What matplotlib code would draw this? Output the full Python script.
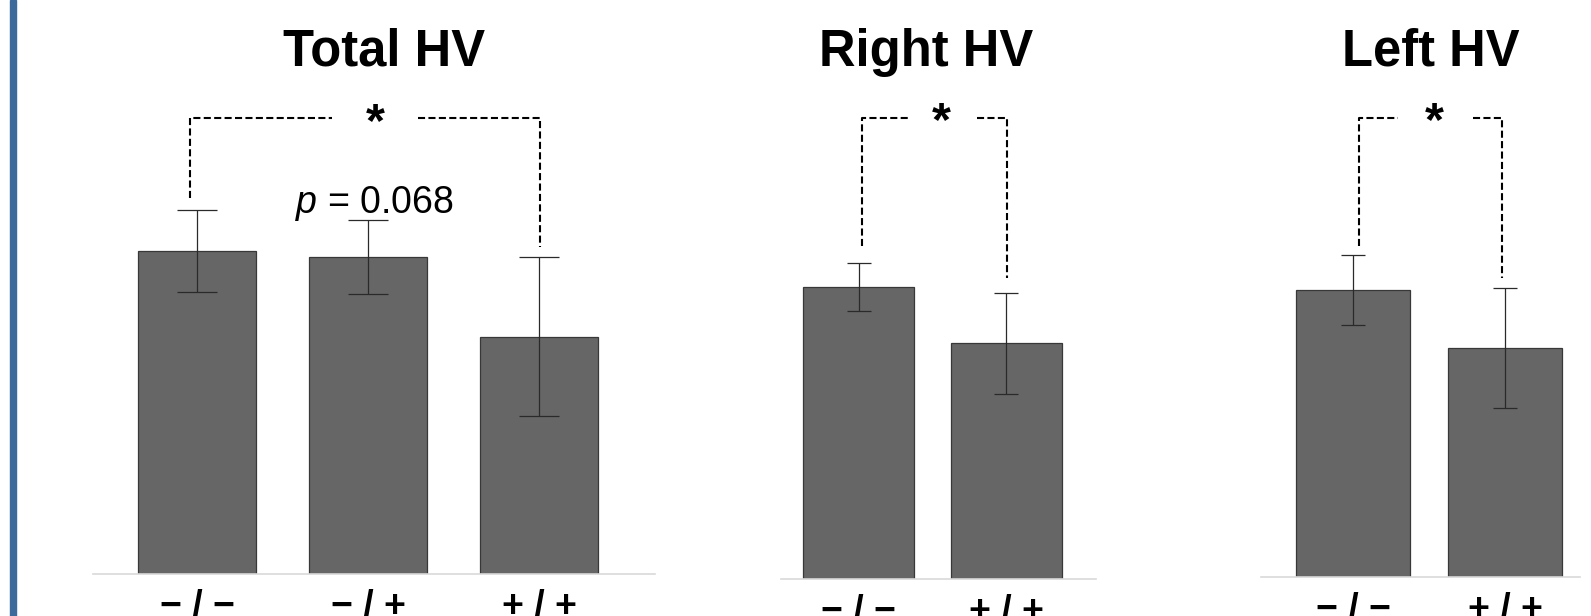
import numpy as np
import matplotlib
matplotlib.use('Agg')
import matplotlib.pyplot as plt

plt.rcParams['font.family'] = ['Liberation Sans', 'DejaVu Sans']
plt.rcParams['mathtext.fontset'] = 'custom'
plt.rcParams['mathtext.it'] = 'Liberation Sans:italic'
plt.rcParams['mathtext.rm'] = 'Liberation Sans'

# data (relative volume, no axis scale shown in the original)
total_labels = ['\u2212 / \u2212', '\u2212 / +', '+ / +']
total_mean = [323, 317, 237.5]
total_err = [40.75, 37, 79.5]

right_labels = ['\u2212 / \u2212', '+ / +']
right_mean = [292, 236]
right_err = [24, 50.5]

left_labels = ['\u2212 / \u2212', '+ / +']
left_mean = [287, 229]
left_err = [35, 60]

titles = ['Total HV', 'Right HV', 'Left HV']

W, H = 1591, 616
fig = plt.figure(figsize=(W / 100, H / 100), dpi=100)

# blue rule on the left
fig.patches.append(plt.Rectangle((10 / W, 0), 6 / W, 1, transform=fig.transFigure,
                                 color='#3d6a9d', zorder=0))

# panel layout in pixels: x0, x1, baseline, xlim, bar width, capsize
panels = [
    dict(labels=total_labels, mean=total_mean, err=total_err, x0=93, x1=655, base=574,
         xlim=(-0.608, 2.678), width=0.69, cap=14.7,
         br=(-0.04, 2.006, 456.5, 376, 327), gap=(0.789, 1.292), star=(1.044, 438),
         title_x=384),
    dict(labels=right_labels, mean=right_mean, err=right_err, x0=781, x1=1096, base=579,
         xlim=(-0.524, 1.605), width=0.75, cap=8.5,
         br=(0.024, 1.003, 461, 333, 301), gap=(0.348, 0.801), star=(0.557, 444),
         title_x=926),
    dict(labels=left_labels, mean=left_mean, err=left_err, x0=1261, x1=1580, base=577,
         xlim=(-0.603, 1.489), width=0.748, cap=8.5,
         br=(0.039, 0.977, 459, 331, 299), gap=(0.295, 0.787), star=(0.531, 442),
         title_x=1431),
]

for i, p in enumerate(panels):
    ax = fig.add_axes([p['x0'] / W, (H - p['base']) / H, (p['x1'] - p['x0']) / W, p['base'] / H])
    x = np.arange(len(p['mean']))
    ax.bar(x, p['mean'], width=p['width'], color='#666666', edgecolor='#383838', linewidth=0.9, zorder=2)
    ax.errorbar(x, p['mean'], yerr=p['err'], fmt='none', ecolor='#2a2a2a', elinewidth=0.9,
                capsize=p['cap'], capthick=0.9, zorder=3)
    ax.set_xlim(p['xlim'])
    ax.set_ylim(0, p['base'])
    for s in ['top', 'left', 'right']:
        ax.spines[s].set_visible(False)
    ax.spines['bottom'].set_color('#d9d9d9')
    ax.spines['bottom'].set_linewidth(1.2)
    ax.set_yticks([])
    ax.set_xticks(x)
    ax.set_xticklabels(p['labels'], fontsize=27, fontweight='bold')
    ax.tick_params(axis='x', length=0, pad=11)
    ax.patch.set_alpha(0)

    # significance bracket
    xl, xr, ytop, yl, yr = p['br']
    g0, g1 = p['gap']
    ls = (0, (3.4, 1.6))
    ax.plot([xl, xl, g0], [yl, ytop, ytop], color='black', lw=1.5, linestyle=ls, clip_on=False)
    ax.plot([g1, xr, xr], [ytop, ytop, yr], color='black', lw=1.5, linestyle=ls, clip_on=False)
    ax.text(p['star'][0], p['star'][1], '*', fontsize=35, fontweight='bold',
            ha='center', va='baseline')

    fig.text(p['title_x'] / W, (H - 66) / H, titles[i], fontsize=36.5, fontweight='bold',
             ha='center', va='baseline')

    if i == 0:
        ax.text(1.035, 361, r'$p$ = 0.068', fontsize=27, ha='center', va='baseline', zorder=4)

fig.savefig('out.png', dpi=100)
